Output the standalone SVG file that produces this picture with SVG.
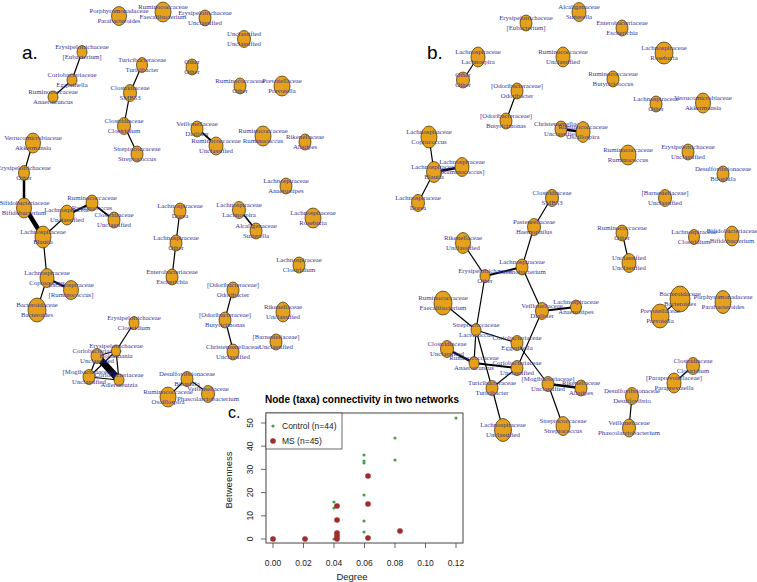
<svg xmlns="http://www.w3.org/2000/svg" width="757" height="582" viewBox="0 0 757 582">
<style>
.node ellipse{fill:#E5A01C;stroke:#3d2b00;stroke-width:0.7}
.node text{font-family:"Liberation Serif","Times New Roman",serif;font-size:6.8px;fill:#36369c;text-anchor:middle}
.edges line{stroke:#000;stroke-width:1.2;stroke-linecap:round}
.panel{font-family:"Liberation Sans",Arial,sans-serif;fill:#000}
.ax{font-family:"Liberation Sans",Arial,sans-serif;font-size:8.5px;fill:#222;text-anchor:middle}
.tick{stroke:#444;stroke-width:0.8}
.g{fill:#4d9e4d}
.r{fill:#a02c2c}
</style>
<rect width="757" height="582" fill="#fff"/>
<text class="panel" x="22" y="59" font-size="19">a.</text>
<text class="panel" x="427" y="59" font-size="19">b.</text>

<g id="edges-a" class="edges">
<line x1="82" y1="52" x2="72" y2="80"/>
<line x1="72" y1="80" x2="53" y2="97"/>
<line x1="142" y1="65" x2="130" y2="93"/>
<line x1="130" y1="93" x2="124" y2="125"/>
<line x1="124" y1="125" x2="137" y2="153"/>
<line x1="197" y1="128" x2="216" y2="145" style="stroke-width:1.8"/>
<line x1="33" y1="142" x2="24" y2="173"/>
<line x1="24" y1="173" x2="24" y2="206" style="stroke-width:2.5"/>
<line x1="24" y1="206" x2="43" y2="237" style="stroke-width:4.5"/>
<line x1="43" y1="237" x2="67" y2="215"/>
<line x1="67" y1="215" x2="92" y2="203" style="stroke-width:2.2"/>
<line x1="92" y1="203" x2="114" y2="220" style="stroke-width:1.6"/>
<line x1="43" y1="237" x2="47" y2="278"/>
<line x1="47" y1="278" x2="71" y2="290" style="stroke-width:2"/>
<line x1="47" y1="278" x2="37" y2="310"/>
<line x1="239" y1="209" x2="256" y2="230" style="stroke-width:1.5"/>
<line x1="180" y1="210" x2="176" y2="243"/>
<line x1="176" y1="243" x2="172" y2="277"/>
<line x1="233" y1="289" x2="225" y2="319"/>
<line x1="225" y1="319" x2="233" y2="350"/>
<line x1="134" y1="323" x2="116" y2="351"/>
<line x1="97" y1="356" x2="116" y2="351"/>
<line x1="97" y1="356" x2="89" y2="377"/>
<line x1="97" y1="356" x2="119" y2="380" style="stroke-width:7"/>
<line x1="116" y1="351" x2="89" y2="377"/>
<line x1="116" y1="351" x2="119" y2="380"/>
<line x1="89" y1="377" x2="119" y2="380"/>
<line x1="187" y1="378" x2="168" y2="397"/>
<line x1="187" y1="378" x2="208" y2="393"/>
</g>

<g id="edges-b" class="edges">
<line x1="478" y1="57" x2="463" y2="80"/>
<line x1="517" y1="91" x2="506" y2="121"/>
<line x1="561" y1="129" x2="583" y2="132" style="stroke-width:2.5"/>
<line x1="429" y1="137" x2="434" y2="172"/>
<line x1="434" y1="172" x2="462" y2="167" style="stroke-width:2.5"/>
<line x1="434" y1="172" x2="418" y2="203"/>
<line x1="552" y1="197" x2="534" y2="227"/>
<line x1="534" y1="227" x2="522" y2="267"/>
<line x1="463" y1="243" x2="485" y2="276"/>
<line x1="485" y1="276" x2="522" y2="267" style="stroke-width:2"/>
<line x1="522" y1="267" x2="542" y2="311"/>
<line x1="542" y1="311" x2="576" y2="307" style="stroke-width:2"/>
<line x1="485" y1="276" x2="476" y2="330"/>
<line x1="443" y1="303" x2="476" y2="330"/>
<line x1="476" y1="330" x2="517" y2="343"/>
<line x1="476" y1="330" x2="474" y2="363"/>
<line x1="476" y1="330" x2="492" y2="388"/>
<line x1="447" y1="349" x2="474" y2="363" style="stroke-width:2.5"/>
<line x1="474" y1="363" x2="517" y2="368" style="stroke-width:2"/>
<line x1="542" y1="311" x2="517" y2="368"/>
<line x1="517" y1="343" x2="548" y2="384"/>
<line x1="517" y1="368" x2="492" y2="388"/>
<line x1="492" y1="388" x2="503" y2="430"/>
<line x1="548" y1="384" x2="581" y2="388" style="stroke-width:2.5"/>
<line x1="548" y1="384" x2="563" y2="426"/>
<line x1="622" y1="232" x2="629" y2="263"/>
<line x1="680" y1="299" x2="660" y2="316"/>
<line x1="693" y1="366" x2="674" y2="383" style="stroke-width:1.5"/>
<line x1="632" y1="396" x2="629" y2="428"/>
</g>

<!-- panel a nodes -->
<g id="a_parabact" class="node" transform="translate(119,16)"><ellipse rx="7.5" ry="9.5"/><text y="-2.6">Porphyromonadaceae</text><text y="7.4">Parabacteroides</text></g>
<g id="a_faecali" class="node" transform="translate(163,12)"><ellipse rx="8" ry="10"/><text y="-2.6">Ruminococcaceae</text><text y="7.4">Faecalibacterium</text></g>
<g id="a_eryuncl" class="node" transform="translate(205,18)"><ellipse rx="6" ry="8"/><text y="-2.6">Erysipelotrichaceae</text><text y="7.4">Unclassified</text></g>
<g id="a_uncluncl" class="node" transform="translate(244,39)"><ellipse rx="6.5" ry="8.5"/><text y="-2.6">Unclassified</text><text y="7.4">Unclassified</text></g>
<g id="a_eubact" class="node" transform="translate(82,52)"><ellipse rx="5" ry="6.5"/><text y="-2.6">Erysipelotrichaceae</text><text y="7.4">[Eubacterium]</text></g>
<g id="a_eggerth" class="node" transform="translate(72,80)"><ellipse rx="5" ry="6"/><text y="-2.6">Coriobacteriaceae</text><text y="7.4">Eggerthella</text></g>
<g id="a_anaerotr" class="node" transform="translate(53,97)"><ellipse rx="5" ry="6"/><text y="-2.6">Ruminococcaceae</text><text y="7.4">Anaerotruncus</text></g>
<g id="a_turici" class="node" transform="translate(142,65)"><ellipse rx="5.5" ry="7.5"/><text y="-2.6">Turicibacteraceae</text><text y="7.4">Turicibacter</text></g>
<g id="a_otherother" class="node" transform="translate(192,67)"><ellipse rx="6" ry="8"/><text y="-2.6">Other</text><text y="7.4">Other</text></g>
<g id="a_smb53" class="node" transform="translate(130,93)"><ellipse rx="6.5" ry="8.5"/><text y="-2.6">Clostridiaceae</text><text y="7.4">SMB53</text></g>
<g id="a_rumother" class="node" transform="translate(240,86)"><ellipse rx="6" ry="8"/><text y="-2.6">Ruminococcaceae</text><text y="7.4">Other</text></g>
<g id="a_prevot" class="node" transform="translate(282,86)"><ellipse rx="8" ry="10"/><text y="-2.6">Prevotellaceae</text><text y="7.4">Prevotella</text></g>
<g id="a_clostridium" class="node" transform="translate(124,126)"><ellipse rx="6.5" ry="8.5"/><text y="-2.6">Clostridiaceae</text><text y="7.4">Clostridium</text></g>
<g id="a_dialister" class="node" transform="translate(197,129)"><ellipse rx="6" ry="8"/><text y="-2.6">Veillonellaceae</text><text y="7.4">Dialister</text></g>
<g id="a_rumuncl" class="node" transform="translate(216,146)"><ellipse rx="7" ry="9"/><text y="-2.6">Ruminococcaceae</text><text y="7.4">Unclassified</text></g>
<g id="a_rumino1" class="node" transform="translate(263,136)"><ellipse rx="8" ry="10"/><text y="-2.6">Ruminococcaceae</text><text y="7.4">Ruminococcus</text></g>
<g id="a_alistipes" class="node" transform="translate(305,142)"><ellipse rx="6" ry="8"/><text y="-2.6">Rikenellaceae</text><text y="7.4">Alistipes</text></g>
<g id="a_strep" class="node" transform="translate(137,154)"><ellipse rx="6" ry="8"/><text y="-2.6">Streptococcaceae</text><text y="7.4">Streptococcus</text></g>
<g id="a_akker" class="node" transform="translate(33,143)"><ellipse rx="7.5" ry="10"/><text y="-2.6">Verrucomicrobiaceae</text><text y="7.4">Akkermansia</text></g>
<g id="a_eryother" class="node" transform="translate(24,173)"><ellipse rx="5.5" ry="7.5"/><text y="-2.6">Erysipelotrichaceae</text><text y="7.4">Other</text></g>
<g id="a_bifido" class="node" transform="translate(24,208)"><ellipse rx="7.5" ry="10"/><text y="-2.6">Bifidobacteriaceae</text><text y="7.4">Bifidobacterium</text></g>
<g id="a_lachuncl" class="node" transform="translate(67,215)"><ellipse rx="7" ry="10"/><text y="-2.6">Lachnospiraceae</text><text y="7.4">Unclassified</text></g>
<g id="a_rumino2" class="node" transform="translate(92,203)"><ellipse rx="6" ry="8"/><text y="-2.6">Ruminococcaceae</text><text y="7.4">Ruminococcus</text></g>
<g id="a_clostruncl" class="node" transform="translate(114,220)"><ellipse rx="6" ry="8"/><text y="-2.6">Clostridiaceae</text><text y="7.4">Unclassified</text></g>
<g id="a_blautia" class="node" transform="translate(43,237)"><ellipse rx="8" ry="11"/><text y="-2.6">Lachnospiraceae</text><text y="7.4">Blautia</text></g>
<g id="a_anaerost" class="node" transform="translate(286,186)"><ellipse rx="6" ry="8"/><text y="-2.6">Lachnospiraceae</text><text y="7.4">Anaerostipes</text></g>
<g id="a_dorea" class="node" transform="translate(180,211)"><ellipse rx="6" ry="8"/><text y="-2.6">Lachnospiraceae</text><text y="7.4">Dorea</text></g>
<g id="a_lachnospira" class="node" transform="translate(239,210)"><ellipse rx="6.5" ry="8.5"/><text y="-2.6">Lachnospiraceae</text><text y="7.4">Lachnospira</text></g>
<g id="a_sutter" class="node" transform="translate(256,231)"><ellipse rx="6" ry="8"/><text y="-2.6">Alcaligenaceae</text><text y="7.4">Sutterella</text></g>
<g id="a_roseb" class="node" transform="translate(313,218)"><ellipse rx="8" ry="10"/><text y="-2.6">Lachnospiraceae</text><text y="7.4">Roseburia</text></g>
<g id="a_lachother" class="node" transform="translate(176,243)"><ellipse rx="6" ry="8"/><text y="-2.6">Lachnospiraceae</text><text y="7.4">Other</text></g>
<g id="a_escher" class="node" transform="translate(172,277)"><ellipse rx="6" ry="8"/><text y="-2.6">Enterobacteriaceae</text><text y="7.4">Escherichia</text></g>
<g id="a_lachclost" class="node" transform="translate(299,265)"><ellipse rx="6" ry="8"/><text y="-2.6">Lachnospiraceae</text><text y="7.4">Clostridium</text></g>
<g id="a_copro" class="node" transform="translate(47,278)"><ellipse rx="7" ry="9.5"/><text y="-2.6">Lachnospiraceae</text><text y="7.4">Coprococcus</text></g>
<g id="a_lachrumino" class="node" transform="translate(71,290)"><ellipse rx="7.5" ry="9.5"/><text y="-2.6">Lachnospiraceae</text><text y="7.4">[Ruminococcus]</text></g>
<g id="a_bacter" class="node" transform="translate(37,310)"><ellipse rx="9" ry="12"/><text y="-2.6">Bacteroidaceae</text><text y="7.4">Bacteroides</text></g>
<g id="a_odori" class="node" transform="translate(233,290)"><ellipse rx="6" ry="8"/><text y="-2.6">[Odoribacteraceae]</text><text y="7.4">Odoribacter</text></g>
<g id="a_butyri" class="node" transform="translate(225,320)"><ellipse rx="6" ry="8"/><text y="-2.6">[Odoribacteraceae]</text><text y="7.4">Butyricimonas</text></g>
<g id="a_rikuncl" class="node" transform="translate(283,312)"><ellipse rx="7" ry="10"/><text y="-2.6">Rikenellaceae</text><text y="7.4">Unclassified</text></g>
<g id="a_barnes" class="node" transform="translate(276,342)"><ellipse rx="6" ry="8"/><text y="-2.6">[Barnesiellaceae]</text><text y="7.4">Unclassified</text></g>
<g id="a_christ" class="node" transform="translate(233,352)"><ellipse rx="6" ry="8"/><text y="-2.6">Christensenellaceae</text><text y="7.4">Unclassified</text></g>
<g id="a_eryclost" class="node" transform="translate(134,323)"><ellipse rx="5" ry="6.5"/><text y="-2.6">Erysipelotrichaceae</text><text y="7.4">Clostridium</text></g>
<g id="a_coriouncl" class="node" transform="translate(97,356)"><ellipse rx="6" ry="7.5"/><text y="-2.6">Coriobacteriaceae</text><text y="7.4">Unclassified</text></g>
<g id="a_holdem" class="node" transform="translate(116,351)"><ellipse rx="4.5" ry="6"/><text y="-2.6">Erysipelotrichaceae</text><text y="7.4">Holdemania</text></g>
<g id="a_mogi" class="node" transform="translate(89,377)"><ellipse rx="6" ry="7.5"/><text y="-2.6">[Mogibacteriaceae]</text><text y="7.4">Unclassified</text></g>
<g id="a_adler" class="node" transform="translate(119,380)"><ellipse rx="5" ry="6"/><text y="-2.6">Coriobacteriaceae</text><text y="7.4">Adlercreutzia</text></g>
<g id="a_biloph" class="node" transform="translate(187,379)"><ellipse rx="6" ry="7.5"/><text y="-2.6">Desulfovibrionaceae</text><text y="7.4">Bilophila</text></g>
<g id="a_oscill" class="node" transform="translate(168,397)"><ellipse rx="8" ry="10"/><text y="-2.6">Ruminococcaceae</text><text y="7.4">Oscillospira</text></g>
<g id="a_phasco" class="node" transform="translate(208,394)"><ellipse rx="6.5" ry="8.5"/><text y="-2.6">Veillonellaceae</text><text y="7.4">Phascolarctobacterium</text></g>

<!-- panel b nodes -->
<g id="b_eubact" class="node" transform="translate(526,23)"><ellipse rx="6" ry="8"/><text y="-2.6">Erysipelotrichaceae</text><text y="7.4">[Eubacterium]</text></g>
<g id="b_sutter" class="node" transform="translate(579,12)"><ellipse rx="7" ry="9.5"/><text y="-2.6">Alcaligenaceae</text><text y="7.4">Sutterella</text></g>
<g id="b_escher" class="node" transform="translate(622,28)"><ellipse rx="6" ry="8"/><text y="-2.6">Enterobacteriaceae</text><text y="7.4">Escherichia</text></g>
<g id="b_lachnospira" class="node" transform="translate(478,57)"><ellipse rx="7" ry="10"/><text y="-2.6">Lachnospiraceae</text><text y="7.4">Lachnospira</text></g>
<g id="b_otherother" class="node" transform="translate(463,80)"><ellipse rx="6.5" ry="8"/><text y="-2.6">Other</text><text y="7.4">Other</text></g>
<g id="b_rumuncl" class="node" transform="translate(563,57)"><ellipse rx="7" ry="10"/><text y="-2.6">Ruminococcaceae</text><text y="7.4">Unclassified</text></g>
<g id="b_roseb" class="node" transform="translate(664,53)"><ellipse rx="9" ry="11"/><text y="-2.6">Lachnospiraceae</text><text y="7.4">Roseburia</text></g>
<g id="b_butyricoc" class="node" transform="translate(613,79)"><ellipse rx="6" ry="8"/><text y="-2.6">Ruminococcaceae</text><text y="7.4">Butyricicoccus</text></g>
<g id="b_odori" class="node" transform="translate(517,91)"><ellipse rx="6" ry="8"/><text y="-2.6">[Odoribacteraceae]</text><text y="7.4">Odoribacter</text></g>
<g id="b_butyri" class="node" transform="translate(506,121)"><ellipse rx="6" ry="8"/><text y="-2.6">[Odoribacteraceae]</text><text y="7.4">Butyricimonas</text></g>
<g id="b_lachother" class="node" transform="translate(656,104)"><ellipse rx="6" ry="8"/><text y="-2.6">Lachnospiraceae</text><text y="7.4">Other</text></g>
<g id="b_akker" class="node" transform="translate(703,103)"><ellipse rx="7.5" ry="10"/><text y="-2.6">Verrucomicrobiaceae</text><text y="7.4">Akkermansia</text></g>
<g id="b_christ" class="node" transform="translate(561,129)"><ellipse rx="6" ry="8"/><text y="-2.6">Christensenellaceae</text><text y="7.4">Unclassified</text></g>
<g id="b_oscill" class="node" transform="translate(583,132)"><ellipse rx="7" ry="10.5"/><text y="-2.6">Ruminococcaceae</text><text y="7.4">Oscillospira</text></g>
<g id="b_copro" class="node" transform="translate(429,137)"><ellipse rx="8" ry="11"/><text y="-2.6">Lachnospiraceae</text><text y="7.4">Coprococcus</text></g>
<g id="b_rumino" class="node" transform="translate(628,155)"><ellipse rx="8" ry="10"/><text y="-2.6">Ruminococcaceae</text><text y="7.4">Ruminococcus</text></g>
<g id="b_eryuncl" class="node" transform="translate(688,152)"><ellipse rx="6" ry="8"/><text y="-2.6">Erysipelotrichaceae</text><text y="7.4">Unclassified</text></g>
<g id="b_biloph" class="node" transform="translate(723,174)"><ellipse rx="6" ry="8"/><text y="-2.6">Desulfovibrionaceae</text><text y="7.4">Bilophila</text></g>
<g id="b_barnes" class="node" transform="translate(665,198)"><ellipse rx="6.5" ry="8.5"/><text y="-2.6">[Barnesiellaceae]</text><text y="7.4">Unclassified</text></g>
<g id="b_blautia" class="node" transform="translate(434,172)"><ellipse rx="7.5" ry="10.5"/><text y="-2.6">Lachnospiraceae</text><text y="7.4">Blautia</text></g>
<g id="b_lachrumino" class="node" transform="translate(462,167)"><ellipse rx="7" ry="9.5"/><text y="-2.6">Lachnospiraceae</text><text y="7.4">[Ruminococcus]</text></g>
<g id="b_dorea" class="node" transform="translate(418,203)"><ellipse rx="6.5" ry="8.5"/><text y="-2.6">Lachnospiraceae</text><text y="7.4">Dorea</text></g>
<g id="b_smb53" class="node" transform="translate(552,198)"><ellipse rx="6.5" ry="8.5"/><text y="-2.6">Clostridiaceae</text><text y="7.4">SMB53</text></g>
<g id="b_haemo" class="node" transform="translate(534,227)"><ellipse rx="6.5" ry="8.5"/><text y="-2.6">Pasteurellaceae</text><text y="7.4">Haemophilus</text></g>
<g id="b_rumother" class="node" transform="translate(622,233)"><ellipse rx="6" ry="8"/><text y="-2.6">Ruminococcaceae</text><text y="7.4">Other</text></g>
<g id="b_lachclost" class="node" transform="translate(694,237)"><ellipse rx="5.5" ry="7.5"/><text y="-2.6">Lachnospiraceae</text><text y="7.4">Clostridium</text></g>
<g id="b_bifido" class="node" transform="translate(732,236)"><ellipse rx="7" ry="10"/><text y="-2.6">Bifidobacteriaceae</text><text y="7.4">Bifidobacterium</text></g>
<g id="b_uncluncl" class="node" transform="translate(629,263)"><ellipse rx="7" ry="9.5"/><text y="-2.6">Unclassified</text><text y="7.4">Unclassified</text></g>
<g id="b_rikuncl" class="node" transform="translate(463,243)"><ellipse rx="7.5" ry="10.5"/><text y="-2.6">Rikenellaceae</text><text y="7.4">Unclassified</text></g>
<g id="b_lachnobact" class="node" transform="translate(522,267)"><ellipse rx="6" ry="8"/><text y="-2.6">Lachnospiraceae</text><text y="7.4">Lachnobacterium</text></g>
<g id="b_eryother" class="node" transform="translate(485,276)"><ellipse rx="5" ry="6.5"/><text y="-2.6">Erysipelotrichaceae</text><text y="7.4">Other</text></g>
<g id="b_faecali" class="node" transform="translate(443,303)"><ellipse rx="9" ry="12"/><text y="-2.6">Ruminococcaceae</text><text y="7.4">Faecalibacterium</text></g>
<g id="b_dialister" class="node" transform="translate(542,311)"><ellipse rx="6.5" ry="8.5"/><text y="-2.6">Veillonellaceae</text><text y="7.4">Dialister</text></g>
<g id="b_anaerost" class="node" transform="translate(576,307)"><ellipse rx="5.5" ry="7"/><text y="-2.6">Lachnospiraceae</text><text y="7.4">Anaerostipes</text></g>
<g id="b_bacter" class="node" transform="translate(680,299)"><ellipse rx="10" ry="13"/><text y="-2.6">Bacteroidaceae</text><text y="7.4">Bacteroides</text></g>
<g id="b_parabact" class="node" transform="translate(723,302)"><ellipse rx="8" ry="11.5"/><text y="-2.6">Porphyromonadaceae</text><text y="7.4">Parabacteroides</text></g>
<g id="b_prevot" class="node" transform="translate(660,316)"><ellipse rx="9" ry="12"/><text y="-2.6">Prevotellaceae</text><text y="7.4">Prevotella</text></g>
<g id="b_lactoc" class="node" transform="translate(476,330)"><ellipse rx="5" ry="6.5"/><text y="-2.6">Streptococcaceae</text><text y="7.4">Lactococcus</text></g>
<g id="b_eggerth" class="node" transform="translate(517,343)"><ellipse rx="6" ry="7.5"/><text y="-2.6">Coriobacteriaceae</text><text y="7.4">Eggerthella</text></g>
<g id="b_clostruncl" class="node" transform="translate(447,349)"><ellipse rx="6.5" ry="8.5"/><text y="-2.6">Clostridiaceae</text><text y="7.4">Unclassified</text></g>
<g id="b_anaerotr" class="node" transform="translate(474,363)"><ellipse rx="5" ry="6.5"/><text y="-2.6">Ruminococcaceae</text><text y="7.4">Anaerotruncus</text></g>
<g id="b_coriouncl" class="node" transform="translate(517,368)"><ellipse rx="6" ry="7.5"/><text y="-2.6">Coriobacteriaceae</text><text y="7.4">Unclassified</text></g>
<g id="b_turici" class="node" transform="translate(492,388)"><ellipse rx="6" ry="7.5"/><text y="-2.6">Turicibacteraceae</text><text y="7.4">Turicibacter</text></g>
<g id="b_mogi" class="node" transform="translate(548,384)"><ellipse rx="6" ry="7.5"/><text y="-2.6">[Mogibacteriaceae]</text><text y="7.4">Unclassified</text></g>
<g id="b_alistipes" class="node" transform="translate(581,388)"><ellipse rx="6" ry="8"/><text y="-2.6">Rikenellaceae</text><text y="7.4">Alistipes</text></g>
<g id="b_clostridium" class="node" transform="translate(693,366)"><ellipse rx="6.5" ry="8.5"/><text y="-2.6">Clostridiaceae</text><text y="7.4">Clostridium</text></g>
<g id="b_paraprev" class="node" transform="translate(674,383)"><ellipse rx="7" ry="10"/><text y="-2.6">[Paraprevotellaceae]</text><text y="7.4">Paraprevotella</text></g>
<g id="b_desulfo" class="node" transform="translate(632,396)"><ellipse rx="6.5" ry="8.5"/><text y="-2.6">Desulfovibrionaceae</text><text y="7.4">Desulfovibrio</text></g>
<g id="b_lachuncl" class="node" transform="translate(503,430)"><ellipse rx="8.5" ry="11.5"/><text y="-2.6">Lachnospiraceae</text><text y="7.4">Unclassified</text></g>
<g id="b_strep" class="node" transform="translate(563,426)"><ellipse rx="7" ry="9.5"/><text y="-2.6">Streptococcaceae</text><text y="7.4">Streptococcus</text></g>
<g id="b_phasco" class="node" transform="translate(629,428)"><ellipse rx="6.5" ry="9"/><text y="-2.6">Veillonellaceae</text><text y="7.4">Phascolarctobacterium</text></g>

<!-- panel c -->
<g id="panel-c">
<text class="panel" x="228" y="418" font-size="16">c.</text>
<text class="panel" x="362" y="403" font-size="10" font-weight="bold" text-anchor="middle">Node (taxa) connectivity in two networks</text>
<rect x="266" y="413" width="197" height="130" fill="none" stroke="#444" stroke-width="1"/>
<g class="tick">
<line x1="273" y1="543" x2="273" y2="548"/><line x1="303.5" y1="543" x2="303.5" y2="548"/><line x1="334" y1="543" x2="334" y2="548"/><line x1="364.5" y1="543" x2="364.5" y2="548"/><line x1="395" y1="543" x2="395" y2="548"/><line x1="425.5" y1="543" x2="425.5" y2="548"/><line x1="456" y1="543" x2="456" y2="548"/>
<line x1="261" y1="539" x2="266" y2="539"/><line x1="261" y1="515.8" x2="266" y2="515.8"/><line x1="261" y1="492.6" x2="266" y2="492.6"/><line x1="261" y1="469.4" x2="266" y2="469.4"/><line x1="261" y1="446.2" x2="266" y2="446.2"/><line x1="261" y1="423" x2="266" y2="423"/>
</g>
<text class="ax" x="273" y="566">0.00</text><text class="ax" x="303.5" y="566">0.02</text><text class="ax" x="334" y="566">0.04</text><text class="ax" x="364.5" y="566">0.06</text><text class="ax" x="395" y="566">0.08</text><text class="ax" x="425.5" y="566">0.10</text><text class="ax" x="456" y="566">0.12</text>
<text class="ax" transform="translate(253,539) rotate(-90)">0</text>
<text class="ax" transform="translate(253,515.8) rotate(-90)">10</text>
<text class="ax" transform="translate(253,492.6) rotate(-90)">20</text>
<text class="ax" transform="translate(253,469.4) rotate(-90)">30</text>
<text class="ax" transform="translate(253,446.2) rotate(-90)">40</text>
<text class="ax" transform="translate(253,423) rotate(-90)">50</text>
<text class="ax" style="font-size:9.5px" x="352" y="580">Degree</text>
<text class="ax" style="font-size:9.5px" transform="translate(232,480) rotate(-90)">Betweenness</text>
<g class="g">
<circle cx="273" cy="539" r="1.6"/><circle cx="305" cy="539" r="1.6"/><circle cx="334" cy="502" r="1.6"/><circle cx="334" cy="508" r="1.6"/><circle cx="334" cy="539" r="1.6"/><circle cx="364" cy="455" r="1.6"/><circle cx="364" cy="461" r="1.6"/><circle cx="364" cy="463" r="1.6"/><circle cx="364" cy="495" r="1.6"/><circle cx="364" cy="521" r="1.6"/><circle cx="364" cy="532" r="1.6"/><circle cx="395" cy="460" r="1.6"/><circle cx="395" cy="438" r="1.6"/><circle cx="456" cy="418" r="1.6"/>
</g>
<g class="r">
<circle cx="273" cy="539" r="2.8"/><circle cx="305" cy="539" r="2.8"/><circle cx="337" cy="506" r="2.8"/><circle cx="337" cy="520" r="2.8"/><circle cx="337" cy="533" r="2.8"/><circle cx="337" cy="536" r="2.8"/><circle cx="337" cy="539" r="2.8"/><circle cx="368" cy="476" r="2.8"/><circle cx="368" cy="504" r="2.8"/><circle cx="368" cy="538" r="2.8"/><circle cx="400" cy="531" r="2.8"/>
</g>
<rect x="266" y="413" width="76" height="36" fill="#fff" stroke="#444" stroke-width="0.8"/>
<circle class="g" cx="273" cy="426" r="1.6"/>
<circle class="r" cx="273" cy="441" r="2.8"/>
<text class="ax" style="text-anchor:start" x="282" y="429">Control (n=44)</text>
<text class="ax" style="text-anchor:start" x="282" y="444">MS (n=45)</text>
</g>
</svg>
